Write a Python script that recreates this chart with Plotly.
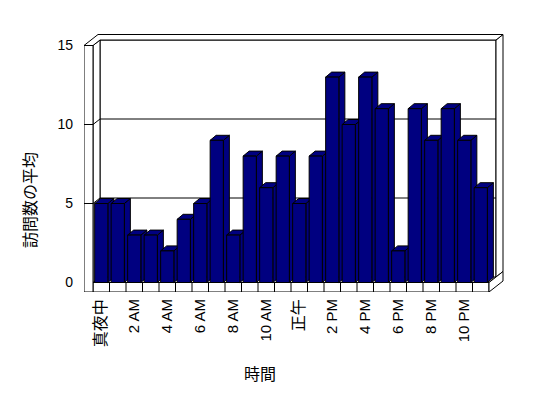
import plotly.graph_objects as go

# ---- data ----
categories = ["真夜中", "1 AM", "2 AM", "3 AM", "4 AM", "5 AM", "6 AM", "7 AM",
              "8 AM", "9 AM", "10 AM", "11 AM", "正午", "1 PM", "2 PM", "3 PM",
              "4 PM", "5 PM", "6 PM", "7 PM", "8 PM", "9 PM", "10 PM", "11 PM"]
visits = [5, 5, 3, 3, 2, 4, 5, 9, 3, 8, 6, 8, 5, 8, 13, 10, 13, 11, 2, 11, 9, 11, 9, 6]
y_ticks = [0, 5, 10, 15]
y_title = "訪問数の平均"
x_title = "時間"

NAVY = "#000080"
W, H = 548, 398
ML, MR, MT, MB = 84, 44, 30, 106
XU, YU = 16.5, 15.8                     # px per unit (x category, y value)
pw, ph = W - ML - MR, H - MT - MB
x0r = -0.5 - 9 / XU
xr_ = x0r + pw / XU
y0r = -9.5 / YU
yr_ = y0r + ph / YU

n = len(categories)
idx = list(range(n))
ymax = y_ticks[-1]
L, R = -0.5, n - 0.5
bdx, bdy = 6 / XU, 5 / YU               # bar depth
Dx, Dy = 7 / XU, 5.5 / YU               # plot depth
Tx, Ty = 7 / XU, 5.5 / YU               # wall thickness
Wx = 9 / XU                             # left wall thickness
Fy = 9.5 / YU                           # floor thickness
bw = 0.8

shapes = []


def poly(pts, fill="white"):
    p = "M " + " L ".join(f"{x:.4f},{y:.4f}" for x, y in pts) + " Z"
    shapes.append(dict(type="path", path=p, xref="x", yref="y", layer="below",
                       fillcolor=fill, line=dict(color="black", width=1)))


def seg(a, b):
    shapes.append(dict(type="line", x0=a[0], y0=a[1], x1=b[0], y1=b[1], xref="x", yref="y",
                       layer="below", line=dict(color="black", width=1)))


# floor top (full depth)
poly([(L, 0), (R, 0), (R + Dx + Tx, Dy + Ty), (L + Dx + Tx, Dy + Ty)])
# back wall front face
poly([(L + Dx, Dy), (R + Dx, Dy), (R + Dx, ymax + Dy), (L + Dx, ymax + Dy)])
# back wall right side
poly([(R + Dx, Dy), (R + Dx + Tx, Dy + Ty), (R + Dx + Tx, ymax + Dy + Ty), (R + Dx, ymax + Dy)])
# left wall inner face
poly([(L, 0), (L + Dx, Dy), (L + Dx, ymax + Dy), (L, ymax)])
# top face of walls
poly([(L - Wx, ymax), (L, ymax), (L + Dx, ymax + Dy), (R + Dx, ymax + Dy),
      (R + Dx + Tx, ymax + Dy + Ty), (L - Wx + Dx + Tx, ymax + Dy + Ty)])
# gridlines
for v in y_ticks[1:-1]:
    seg((L, v), (L + Dx, v + Dy))
    seg((L + Dx, v + Dy), (R + Dx, v + Dy))
# floor front and right faces
poly([(L, 0), (R, 0), (R, -Fy), (L, -Fy)])
poly([(R, 0), (R + Dx + Tx, Dy + Ty), (R + Dx + Tx, Dy + Ty - Fy), (R, -Fy)])
for k in range(1, n):
    seg((L + k, 0), (L + k, -Fy))
# left wall front face
poly([(L - Wx, -Fy), (L, -Fy), (L, ymax), (L - Wx, ymax)])
for v in y_ticks[1:-1]:
    seg((L - Wx, v), (L, v))

# bar sides and tops
for i, v in zip(idx, visits):
    xl, xr = i - bw / 2, i + bw / 2
    poly([(xr, 0), (xr + bdx, bdy), (xr + bdx, v + bdy), (xr, v)], NAVY)
    poly([(xl, v), (xl + bdx, v + bdy), (xr + bdx, v + bdy), (xr, v)], NAVY)

fig = go.Figure(go.Bar(x=idx, y=visits, width=bw, marker_color=NAVY,
                       marker_line=dict(color="black", width=1), hoverinfo="y"))

# split tick labels: latin on xaxis, CJK (larger) on overlaid xaxis2
lat_vals, lat_txt, cjk_vals, cjk_txt = [], [], [], []
for i in idx[::2]:
    t = categories[i]
    if any(ord(c) > 255 for c in t):
        cjk_vals.append(i); cjk_txt.append(t)
    else:
        lat_vals.append(i); lat_txt.append(t)
fig.add_trace(go.Scatter(x=cjk_vals, y=[0] * len(cjk_vals), xaxis="x2", yaxis="y",
                         mode="markers", marker=dict(opacity=0), hoverinfo="skip"))

FONT = "Liberation Sans, Arial, Noto Sans CJK JP"
common_x = dict(range=[x0r, xr_], showgrid=False, zeroline=False, showline=False,
                tickmode="array", tickangle=-90, ticks="", fixedrange=True)
fig.update_layout(
    width=W, height=H, autosize=False,
    margin=dict(l=ML, r=MR, t=MT, b=MB, pad=0),
    paper_bgcolor="white", plot_bgcolor="white",
    showlegend=False, shapes=shapes,
    font=dict(family=FONT, size=14, color="black"),
    xaxis=dict(**common_x, tickvals=lat_vals, ticktext=lat_txt, ticklabelstandoff=3,
               tickfont=dict(family=FONT, size=15, color="black")),
    xaxis2=dict(**common_x, overlaying="x", side="bottom", tickvals=cjk_vals, ticktext=cjk_txt,
                ticklabelstandoff=3,
                tickfont=dict(family="Noto Sans CJK JP", size=16, color="black")),
    yaxis=dict(range=[y0r, yr_], showgrid=False, zeroline=False, showline=False,
               tickmode="array", tickvals=y_ticks, ticks="", ticklabelstandoff=10,
               tickfont=dict(family=FONT, size=14, color="black"), fixedrange=True),
    annotations=[
        dict(text=x_title, xref="paper", yref="paper", x=(260 - ML) / pw, y=(MT + ph - 374.5) / ph,
             xanchor="center", yanchor="middle", showarrow=False, font=dict(size=16, color="black")),
        dict(text=y_title, xref="paper", yref="paper", x=(30 - ML) / pw, y=(MT + ph - 200) / ph,
             xanchor="center", yanchor="middle", showarrow=False, textangle=-90,
             font=dict(size=16, color="black")),
    ],
)
fig.write_html("out.html")
